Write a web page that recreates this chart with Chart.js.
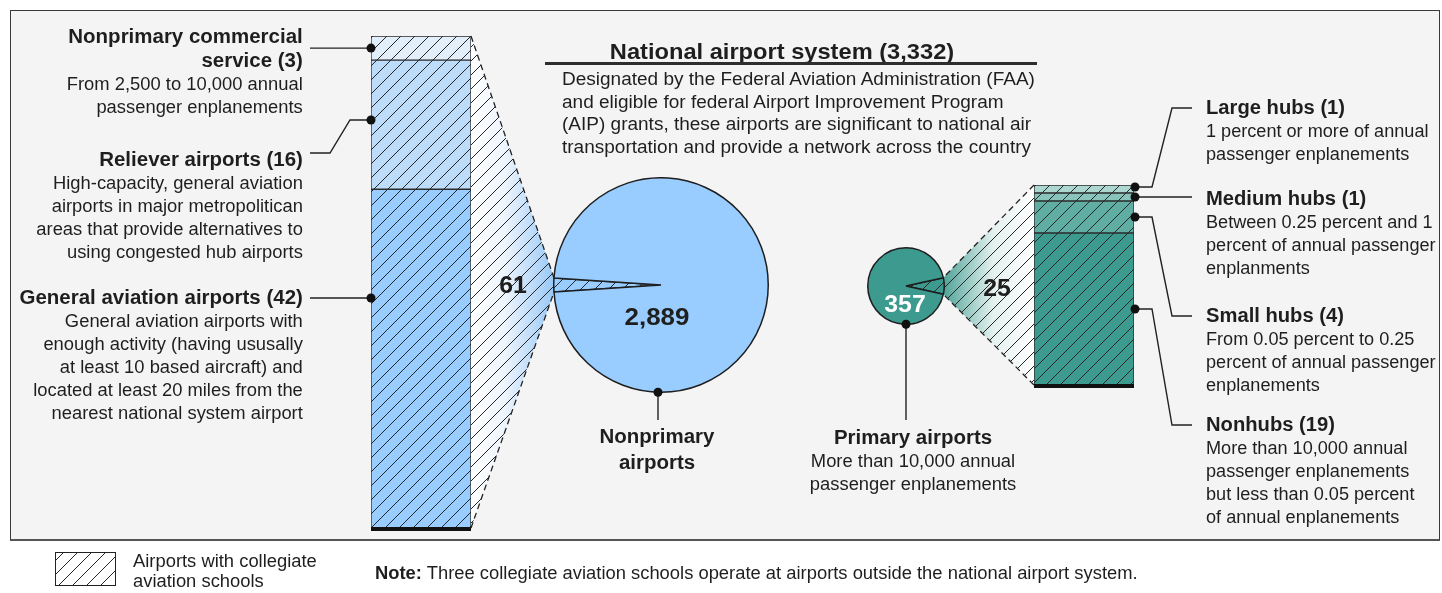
<!DOCTYPE html>
<html>
<head>
<meta charset="utf-8">
<script src="https://cdn.jsdelivr.net/npm/chart.js@4.4.0/dist/chart.umd.min.js"></script>
<style>
body { margin:0; width:1442px; height:593px; background:#fff; position:relative; overflow:hidden;
       font-family:"Liberation Sans", Arial, sans-serif; color:#1e1e1e; }
#frame { position:absolute; left:10px; top:10px; width:1428px; height:528px; background:#f4f4f4;
         border:1.5px solid #3a3a3a; border-bottom:2.5px solid #555; }
canvas { position:absolute; }
.t { position:absolute; white-space:nowrap; font-size:17.5px; line-height:23px; }
.t b { font-size:19.5px; }
.r { right:1139px; text-align:right; transform-origin:right center; transform:scaleX(1.05); }
.l { left:1206px; transform-origin:left center; transform:scaleX(1.035); }
.c { text-align:center; transform:translateX(-50%) scaleX(1.05); }
.num { position:absolute; font-weight:bold; font-size:23px; line-height:26px; transform:translateX(-50%) scaleX(1.08); }
</style>
</head>
<body>
<div id="frame"></div>
<canvas id="back" width="1442" height="593" style="left:0;top:0"></canvas>
<canvas id="leftBar" width="112" height="506" style="left:365px;top:30px"></canvas>
<canvas id="rightBar" width="112" height="214" style="left:1028px;top:179px"></canvas>
<canvas id="bigPie" width="216" height="216" style="left:553px;top:177px"></canvas>
<canvas id="smallPie" width="78" height="78" style="left:867px;top:247px"></canvas>
<canvas id="front" width="1442" height="593" style="left:0;top:0"></canvas>

<div class="t r" style="top:25px"><b>Nonprimary commercial<br>service (3)</b><br>From 2,500 to 10,000 annual<br>passenger enplanements</div>
<div class="t r" style="top:148px"><b>Reliever airports (16)</b><br>High-capacity, general aviation<br>airports in major metropolitican<br>areas that provide alternatives to<br>using congested hub airports</div>
<div class="t r" style="top:286px"><b>General aviation airports (42)</b><br>General aviation airports with<br>enough activity (having ususally<br>at least 10 based aircraft) and<br>located at least 20 miles from the<br>nearest national system airport</div>

<div class="t l" style="top:96px"><b>Large hubs (1)</b><br>1 percent or more of annual<br>passenger enplanements</div>
<div class="t l" style="top:187px"><b>Medium hubs (1)</b><br>Between 0.25 percent and 1<br>percent of annual passenger<br>enplanments</div>
<div class="t l" style="top:304px"><b>Small hubs (4)</b><br>From 0.05 percent to 0.25<br>percent of annual passenger<br>enplanements</div>
<div class="t l" style="top:413px"><b>Nonhubs (19)</b><br>More than 10,000 annual<br>passenger enplanements<br>but less than 0.05 percent<br>of annual enplanements</div>

<div class="t" style="left:782px;top:38px;font-size:21.5px;font-weight:bold;line-height:28px;transform:translateX(-50%) scaleX(1.1)">National airport system (3,332)</div>
<div style="position:absolute;left:545px;top:62px;width:492px;height:3px;background:#2e2e2e"></div>
<div class="t" style="left:562px;top:68px;line-height:22.7px;transform-origin:left center;transform:scaleX(1.086)">Designated by the Federal Aviation Administration (FAA)<br>and eligible for federal Airport Improvement Program<br>(AIP) grants, these airports are significant to national air<br>transportation and provide a network across the country</div>

<div class="t c" style="left:657px;top:424px;line-height:25px"><b>Nonprimary<br>airports</b></div>
<div class="t c" style="left:913px;top:426px"><b>Primary airports</b><br>More than 10,000 annual<br>passenger enplanements</div>

<div class="num" style="left:513px;top:272px">61</div>
<div class="num" style="left:997px;top:275px">25</div>
<div class="num" style="left:657px;top:304px;font-size:24px">2,889</div>
<div class="num" style="left:905px;top:291px;color:#fff">357</div>

<div class="t" style="left:133px;top:551px;line-height:20px;transform-origin:left center;transform:scaleX(1.05)">Airports with collegiate<br>aviation schools</div>
<div class="t" style="left:375px;top:562px;transform-origin:left center;transform:scaleX(1.05)"><b style="font-size:17.5px">Note:</b> Three collegiate aviation schools operate at airports outside the national airport system.</div>

<script>
// nonprimary airports with collegiate aviation schools (bottom to top)
const nonprimaryCats = ['General aviation airports', 'Reliever airports', 'Nonprimary commercial service'];
const nonprimaryCounts = [42, 16, 3];
// primary airports with collegiate aviation schools (bottom to top)
const primaryCats = ['Nonhubs', 'Small hubs', 'Medium hubs', 'Large hubs'];
const primaryCounts = [19, 4, 1, 1];
// whole groups
const pieLabels = ['With collegiate aviation schools', 'Other airports'];
const nonprimaryPie = [61, 2828];   // total 2,889
const primaryPie = [25, 332];       // total 357

const blues = ['#99ccff', '#bddcf9', '#e2eefa'];
const teals = ['#3d9a8f', '#5fada3', '#88c4bc', '#acd6d0'];

function hatch(bg) {
  const s = 14, c = document.createElement('canvas');
  c.width = c.height = s;
  const g = c.getContext('2d');
  if (bg) { g.fillStyle = bg; g.fillRect(0, 0, s, s); }
  g.strokeStyle = '#262626'; g.lineWidth = 1;
  g.beginPath();
  g.moveTo(-1, s + 1); g.lineTo(s + 1, -1);
  g.moveTo(-s / 2 - 1, s / 2 + 1); g.lineTo(s / 2 + 1, -s / 2 - 1);
  g.moveTo(s / 2 - 1, s * 1.5 + 1); g.lineTo(s * 1.5 + 1, s / 2 - 1);
  g.stroke();
  return g.createPattern(c, 'repeat');
}

// thick black base under each stacked bar
const baseLine = {
  id: 'baseLine',
  afterDatasetsDraw(chart) {
    const el = chart.getDatasetMeta(0).data[0];
    const ctx = chart.ctx;
    ctx.fillStyle = '#111';
    ctx.fillRect(el.x - el.width / 2, el.base - 1, el.width, 4);
  }
};

function stackChart(id, cats, counts, colors, pad) {
  const total = counts.reduce((a, b) => a + b, 0);
  return new Chart(document.getElementById(id), {
    type: 'bar',
    data: {
      labels: [''],
      datasets: cats.map((c, i) => ({
        label: c, data: [counts[i]], backgroundColor: hatch(colors[i]),
        borderColor: '#2b2b2b', borderWidth: 1, borderSkipped: false,
        barPercentage: 1, categoryPercentage: 1
      }))
    },
    options: {
      responsive: false, animation: false, events: [],
      layout: { padding: pad },
      plugins: { legend: { display: false }, tooltip: { enabled: false } },
      scales: {
        x: { display: false, stacked: true },
        y: { display: false, stacked: true, min: 0, max: total }
      }
    },
    plugins: [baseLine]
  });
}

function pieChart(id, values, color, centerDeg) {
  const span = values[0] / (values[0] + values[1]) * 360;
  return new Chart(document.getElementById(id), {
    type: 'pie',
    data: {
      labels: pieLabels,
      datasets: [{ data: values, backgroundColor: [hatch(color), color], borderColor: '#1e1e1e', borderWidth: 1.5 }]
    },
    options: {
      responsive: false, animation: false, events: [],
      rotation: centerDeg - span / 2,
      plugins: { legend: { display: false }, tooltip: { enabled: false } }
    }
  });
}

const leftBar = stackChart('leftBar', nonprimaryCats, nonprimaryCounts, blues, { left: 6, right: 6, top: 6, bottom: 8 });
const rightBar = stackChart('rightBar', primaryCats, primaryCounts, teals, { left: 6, right: 6, top: 6, bottom: 8 });
const bigPie = pieChart('bigPie', nonprimaryPie, '#99ccff', 270);
const smallPie = pieChart('smallPie', primaryPie, '#3d9a8f', 90);

function off(chart) { return { x: chart.canvas.offsetLeft, y: chart.canvas.offsetTop }; }
function barBox(chart) {
  const o = off(chart);
  const metas = chart.data.datasets.map((d, i) => chart.getDatasetMeta(i).data[0]);
  const first = metas[0], last = metas[metas.length - 1];
  return {
    left: o.x + first.x - first.width / 2, right: o.x + first.x + first.width / 2,
    top: o.y + last.y, bottom: o.y + first.base,
    segs: metas.map(m => ({ top: o.y + m.y, bottom: o.y + m.base }))
  };
}
function wedge(chart) {
  const o = off(chart), a = chart.getDatasetMeta(0).data[0];
  const p = ang => ({ x: o.x + a.x + a.outerRadius * Math.cos(ang), y: o.y + a.y + a.outerRadius * Math.sin(ang) });
  const pts = [p(a.startAngle), p(a.endAngle)].sort((m, n) => m.y - n.y);
  return { upper: pts[0], lower: pts[1], cx: o.x + a.x, cy: o.y + a.y, r: a.outerRadius };
}

const lb = barBox(leftBar), rb = barBox(rightBar);
const bw = wedge(bigPie), sw = wedge(smallPie);

// connectors behind the charts
const back = document.getElementById('back').getContext('2d');
function connector(a1, a2, b1, b2, g0, g1, stops) {
  back.save();
  const grad = back.createLinearGradient(g0, 0, g1, 0);
  stops.forEach(s => grad.addColorStop(s[0], s[1]));
  back.beginPath();
  back.moveTo(a1.x, a1.y); back.lineTo(b1.x, b1.y); back.lineTo(b2.x, b2.y); back.lineTo(a2.x, a2.y);
  back.closePath();
  back.fillStyle = grad; back.fill();
  back.fillStyle = hatch(null); back.fill();
  back.setLineDash([6, 4]); back.strokeStyle = '#222'; back.lineWidth = 1.3;
  back.beginPath(); back.moveTo(a1.x, a1.y); back.lineTo(b1.x, b1.y); back.stroke();
  back.beginPath(); back.moveTo(a2.x, a2.y); back.lineTo(b2.x, b2.y); back.stroke();
  back.restore();
}
connector({ x: lb.right, y: lb.top }, { x: lb.right, y: lb.bottom }, bw.upper, bw.lower,
  lb.right, bw.upper.x, [[0, '#ffffff'], [0.4, '#eef5fd'], [1, '#98c8f6']]);
connector({ x: rb.left, y: rb.top }, { x: rb.left, y: rb.bottom }, sw.upper, sw.lower,
  sw.upper.x, rb.left, [[0, '#4fa398'], [0.55, '#e4f1ef'], [1, '#ffffff']]);

// leaders and dots on top
const f = document.getElementById('front').getContext('2d');
f.strokeStyle = '#222'; f.fillStyle = '#111'; f.lineWidth = 1.4;
function leader(pts) {
  f.beginPath(); f.moveTo(pts[0][0], pts[0][1]);
  pts.slice(1).forEach(p => f.lineTo(p[0], p[1])); f.stroke();
  f.beginPath(); f.arc(pts[0][0], pts[0][1], 4.5, 0, Math.PI * 2); f.fill();
}
const L = lb.left;
const mid = s => (s.top + s.bottom) / 2;
leader([[L, mid(lb.segs[2])], [310, mid(lb.segs[2])]]);
leader([[L, 120], [350, 120], [330, 153], [310, 153]]);
leader([[L, 298], [310, 298]]);

const R = rb.right + 1;
leader([[R, mid(rb.segs[3]) - 2], [1152, mid(rb.segs[3]) - 2], [1172, 108], [1192, 108]]);
leader([[R, mid(rb.segs[2])], [1192, mid(rb.segs[2])]]);
leader([[R, mid(rb.segs[1])], [1152, mid(rb.segs[1])], [1172, 316], [1192, 316]]);
leader([[R, mid(rb.segs[0])], [1152, mid(rb.segs[0])], [1172, 425], [1192, 425]]);
leader([[bw.cx - 3, bw.cy + bw.r], [bw.cx - 3, 420]]);
leader([[sw.cx, sw.cy + sw.r], [sw.cx, 420]]);

// legend swatch
f.fillStyle = '#fff'; f.fillRect(55, 552, 60, 33);
f.fillStyle = hatch(null); f.fillRect(55, 552, 60, 33);
f.lineWidth = 1; f.strokeRect(55.5, 552.5, 60, 33);
</script>
</body>
</html>
